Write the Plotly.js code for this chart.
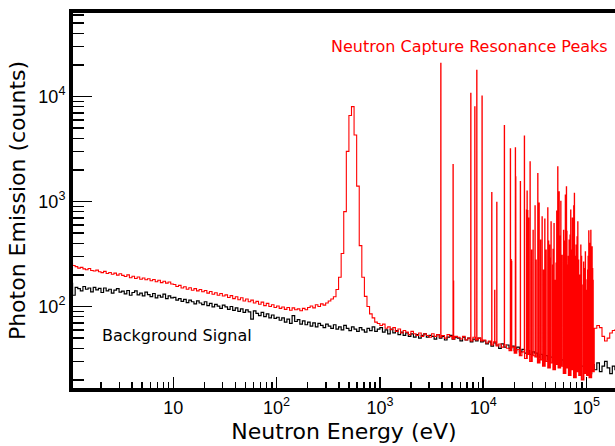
<!DOCTYPE html>
<html><head><meta charset="utf-8">
<script src="https://cdn.plot.ly/plotly-3.0.1.min.js"></script>
<style>html,body{margin:0;padding:0;background:#fff;}#chart{width:615px;height:446px;}</style>
</head><body><div id="chart"></div>
<script>
// Histogram bin start energies (eV)
const energy = [
1,1.059,1.122,1.189,1.259,1.334,1.413,1.496,1.585,1.679,1.778,1.884,1.995,2.113,2.239,2.371,2.512,2.661,2.818,2.985,3.162,3.35,3.548,3.758,3.981,4.217,4.467,4.732,5.012,5.309,5.623,5.957,6.31,6.683,7.079,7.499,7.943,8.414,8.913,9.441,
10,10.59,11.22,11.89,12.59,13.34,14.13,14.96,15.85,16.79,17.78,18.84,19.95,21.13,22.39,23.71,25.12,26.61,28.18,29.85,31.62,33.5,35.48,37.58,39.81,42.17,44.67,47.32,50.12,53.09,56.23,59.57,63.1,66.83,70.79,74.99,79.43,84.14,89.13,94.41,
100,105.9,112.2,118.9,125.9,133.4,141.3,149.6,158.5,167.9,177.8,188.4,199.5,211.3,223.9,237.1,251.2,266.1,281.8,298.5,316.2,335,354.8,375.8,398.1,421.7,446.7,473.2,501.2,530.9,562.3,595.7,631,668.3,707.9,749.9,794.3,841.4,891.3,944.1,
1000,1059,1122,1189,1259,1334,1413,1496,1585,1679,1778,1884,1995,2113,2239,2371,2512,2661,2818,2985,3162,3350,3548,3758,3981,4217,4467,4732,5012,5309,5623,5957,6310,6683,7079,7499,7943,8414,8913,9441,
10000,10590,11220,11890,12590,13340,14130,14960,15850,16790,17780,18840,19950,21130,22390,23710,25120,26610,28180,29850,31620,33500,35480,37580,39810,42170,44670,47320,50120,53090,56230,59570,63100,66830,70790,74990,79430,84140,89130,94410,
100000,105900,112200,118900,125900,133400,141300,149600,158500,167900,177800,188400,199500];

// Background signal counts per bin
const background = [
166,128,152,148,141,155,146,150,138,152,144,149,136,150,141,146,134,143,148,137,140,132,142,128,136,141,129,134,126,137,130,124,133,121,128,123,131,119,126,121,
122,115,119,112,117,109,115,111,106,113,108,104,111,102,107,99,105,101,96,103,99,94,100,92,97,90,95,88,93,89,76,91,86,82,88,80,85,78,83,77,
79,74,78,71,76,69,82,72,75,68,73,67,71,65,70,64,69,66,63,68,65,62,67,61,64,60,66,62,59,64,61,58,63,60,57,62,59,64,58,61,
63,57,60,55,61,56,59,54,57,53,56,52,55,51,54,50,53,55,51,53,52,49,54,50,52,48,51,53,49,51,50,47,51,48,50,46,49,47,50,46,
47,44,46,42,45,43,40,44,41,43,40,42,38,41,37,39,36,38,35,37,36,33,35,32,34,31,33,30,32,29,31,28,30,27,29,26,28,25,27,24,
26,23,28,25,29,24,27,30,26,23,27,25,26];

// Sample signal counts per bin (baseline, includes the ~530 eV peak)
const signal = [
255,246,240,232,236,228,224,230,220,218,222,214,210,216,206,211,203,208,199,205,198,193,200,188,194,185,191,182,187,180,184,176,181,172,178,169,174,167,171,164,
162,155,159,150,154,146,151,143,148,141,145,138,142,134,139,131,135,128,133,126,129,122,127,119,124,116,121,113,118,111,115,108,112,105,110,102,107,100,104,98,
101,96,99,94,98,92,97,93,95,91,96,93,98,101,97,104,100,106,103,108,113,118,124,145,190,320,800,3000,6600,8000,4300,1400,380,190,125,100,85,78,71,69,
66,68,62,64,60,63,58,61,56,59,57,54,58,55,53,56,52,55,53,51,55,52,54,51,53,50,54,52,49,52,51,49,52,48,50,47,51,48,50,47,
48,45,47,43,46,42,44,41,43,40,38,41,36,39,34,37,32,35,30,34,33,29,31,27,30,26,29,25,28,26,27,23,26,22,25,21,24,22,20,23,
22,21,24,62,66,63,52,47,50,56,59,60,60];

// Narrow neutron capture resonance peaks (energy eV, counts)
const peakEnergy = [3880,5100,5150,7570,8280,8650,9730,12080,12900,13510,
16000,18300,18600,18800,20450,20600,22860,25000,26200,26550,
26900,27450,28380,29350,30350,31700,32450,33700,34700,35860,
37100,38340,39400,40100,40540,42100,42870,43830,44330,45300,
46880,47390,48400,49560,50680,51400,52050,52600,53580,54200,
55380,56300,56600,57920,59880,61200,62300,63800,64440,65490,
66640,67710,69220,70200,71580,72800,73990,75100,76200,77370,
79140,80900,82200,83680,85550,87900,89360,90460,93540,95640,
97300,98470,100000,102300,103500,105000,106900,108200,109900,111300,
113000,114400,115600];
const peakCounts = [20650,2250,175,10700,7980,17800,10070,1220,143,980,
5300,3180,280,270,3240,1720,1550,4200,830,1255,
820,695,2390,344,533,910,277,1850,964,429,
714,222,679,300,344,870,420,384,290,640,
248,350,618,178,260,809,450,2140,384,1236,
470,1007,280,308,533,420,1150,1380,520,248,
300,429,480,828,344,695,420,910,1194,300,
384,460,640,277,199,384,300,160,265,230,
332,180,143,222,300,526,344,400,533,248,
370,230,178];

const xTickVals = [10,100,1000,10000,100000];
const xTickText = ['10','10<sup>2</sup>','10<sup>3</sup>','10<sup>4</sup>','10<sup>5</sup>'];
const yTickVals = [100,1000,10000];
const yTickText = ['10<sup>2</sup>','10<sup>3</sup>','10<sup>4</sup>'];
const minorMantissa = [2,3,4,5,6,7,8,9];

// merge narrow peaks into the signal histogram
const sx = [], sy = [];
let k = 0;
for (let i = 0; i < energy.length; i++) {
  sx.push(energy[i]); sy.push(signal[i]);
  const nextE = i + 1 < energy.length ? energy[i + 1] : Infinity;
  while (k < peakEnergy.length && peakEnergy[k] < nextE) {
    if (peakEnergy[k] >= energy[i]) {
      sx.push(peakEnergy[k]); sy.push(peakCounts[k]);
      sx.push(peakEnergy[k] * 1.006); sy.push(signal[i]);
    }
    k++;
  }
}

const xMinor = [], yMinor = [];
[1,10,100,1000,10000,100000].forEach(d => minorMantissa.forEach(m => xMinor.push(m*d)));
[10,100,1000,10000].forEach(d => minorMantissa.forEach(m => yMinor.push(m*d)));

const traces = [
  {x: energy, y: background, type: 'scatter', mode: 'lines', line: {shape: 'hv', color: '#000000', width: 1.2}, hoverinfo: 'skip'},
  {x: sx, y: sy, type: 'scatter', mode: 'lines', line: {shape: 'hv', color: '#ff0000', width: 1.1}, hoverinfo: 'skip'}
];

const tickFont = {family: 'Liberation Sans, Arial, sans-serif', size: 18, color: '#000'};
const titleFont = {family: 'DejaVu Sans, Verdana, sans-serif', size: 22, color: '#000'};

const layout = {
  width: 615, height: 446,
  margin: {l: 73, r: 0, t: 13, b: 58},
  paper_bgcolor: '#ffffff', plot_bgcolor: '#ffffff',
  showlegend: false,
  xaxis: {
    type: 'log', range: [0.029, 5.276],
    showline: true, linewidth: 4, linecolor: '#000', mirror: true,
    showgrid: false, zeroline: false,
    tickmode: 'array', tickvals: xTickVals, ticktext: xTickText,
    ticks: 'inside', ticklen: 11, tickwidth: 1.5, tickcolor: '#000',
    tickfont: tickFont,
    minor: {tickmode: 'array', tickvals: xMinor, ticks: 'inside', ticklen: 6, tickwidth: 1.5, tickcolor: '#000', showgrid: false},
    title: {text: 'Neutron Energy (eV)', font: titleFont, standoff: 8}
  },
  yaxis: {
    type: 'log', range: [1.224, 4.795],
    showline: true, linewidth: 4, linecolor: '#000', mirror: false,
    showgrid: false, zeroline: false,
    tickmode: 'array', tickvals: yTickVals, ticktext: yTickText,
    ticks: 'inside', ticklen: 19, tickwidth: 1.5, tickcolor: '#000',
    tickfont: tickFont,
    minor: {tickmode: 'array', tickvals: yMinor, ticks: 'inside', ticklen: 10.5, tickwidth: 1.5, tickcolor: '#000', showgrid: false},
    title: {text: 'Photon Emission (counts)', font: titleFont, standoff: 8}
  },
  annotations: [
    {text: 'Neutron Capture Resonance Peaks', xref: 'paper', yref: 'paper', x: 0.7314, y: 0.910,
     xanchor: 'center', yanchor: 'middle', showarrow: false,
     font: {family: 'DejaVu Sans, Verdana, sans-serif', size: 16, color: '#ff0000'}},
    {text: 'Background Signal', xref: 'paper', yref: 'paper', x: 0.1928, y: 0.140,
     xanchor: 'center', yanchor: 'middle', showarrow: false,
     font: {family: 'DejaVu Sans, Verdana, sans-serif', size: 16, color: '#000'}}
  ]
};

Plotly.newPlot('chart', traces, layout, {staticPlot: true, displayModeBar: false});
</script>
</body></html>
